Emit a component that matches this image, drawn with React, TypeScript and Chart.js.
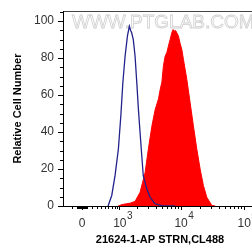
import { useEffect, useRef } from "react";
import { Chart, registerables } from "chart.js";

Chart.register(...registerables);

// ---- data (fluorescence intensity, relative cell count) ----
const isotypeIntensity = [590, 703, 815, 942, 1042, 1131, 1237, 1359, 1465, 1540, 1602, 1705, 1824, 1948, 2069, 2203, 2349, 2484, 2835, 3208, 3850, 4936, 5990, 8040];
const isotypeCount = [0, 5.7, 16.4, 31, 48.8, 66.7, 81, 92, 97.3, 95, 93.7, 90, 81, 66.7, 52.4, 39.8, 27.2, 16.4, 9.3, 4.7, 1.2, 0.2, 0, 0];

const antibodyIntensity = [929, 1097, 1300, 1502, 1824, 2203, 2657, 3008, 3413, 3850, 4365, 4645, 4943, 5240, 5570, 5930, 6280, 6680, 7110, 7450, 7745, 8150, 8550, 9060, 9640, 10260, 10880, 12310, 13900, 15670, 17750, 20050, 22610, 25590, 30700, 34670];
const antibodyCount = [0, 0.8, 1.2, 1.5, 2.5, 7.4, 18, 31, 43, 52, 58, 63, 67, 76, 81, 83, 86.5, 90, 93.7, 95.5, 94.6, 95, 93.7, 92, 88, 84.7, 79.4, 68.6, 56, 43.4, 30.8, 20, 11, 4.7, 0.3, 0];

// ---- axes ----
const xMin = -410;
const xMax = 160000;
const xMajorValues = [0, 1000, 10000, 100000];
const xMajorLabels = ["0", "10", "10", "10"];
const xMajorExponents = ["", "3", "4", "5"];
const xMinorValues = [
  -200, -100, -90, -80, -70, -60, -50, -40, -30, -20, -10,
  10, 20, 30, 40, 50, 60, 70, 80, 90,
  100, 200, 300, 400, 500, 600, 700, 800, 900,
  2000, 3000, 4000, 5000, 6000, 7000, 8000, 9000,
  20000, 30000, 40000, 50000, 60000, 70000, 80000, 90000,
];
const yMin = 0;
const yMax = 105.4;
const yTickValues = [0, 20, 40, 60, 80, 100];
const yMinorValues = [5, 10, 15, 25, 30, 35, 45, 50, 55, 65, 70, 75, 85, 90, 95, 105];

const xTitle = "21624-1-AP STRN,CL488";
const yTitle = "Relative Cell Number";
const watermark = "WWW.PTGLAB.COM";

// biexponential-like display transform (asinh)
const T = (v: number) => 2.431 + Math.asinh(v / 540) / Math.LN10;

const FAMILY = 'Arial, "Liberation Sans", sans-serif';

const extrasPlugin = {
  id: "extras",
  beforeDatasetsDraw(chart: any) {
    const ctx = chart.ctx;
    const { left, top } = chart.chartArea;
    ctx.save();
    ctx.font = "19px " + FAMILY;
    ctx.textBaseline = "alphabetic";
    ctx.textAlign = "left";
    ctx.strokeStyle = "#cfcfcf";
    ctx.lineWidth = 0.8;
    ctx.strokeText(watermark, left + 9, top + 17);
    ctx.restore();
  },
  afterDraw(chart: any) {
    const ctx = chart.ctx;
    const xs = chart.scales.x;
    const ys = chart.scales.y;
    const { left, bottom } = chart.chartArea;
    ctx.save();
    ctx.strokeStyle = "#000";
    ctx.lineWidth = 1;
    ctx.beginPath();
    for (const v of yMinorValues) {
      const p = Math.round(ys.getPixelForValue(v)) + 0.5;
      ctx.moveTo(left - 3, p);
      ctx.lineTo(left, p);
    }
    for (const v of xMinorValues) {
      const p = Math.round(xs.getPixelForValue(T(v))) + 0.5;
      ctx.moveTo(p, bottom);
      ctx.lineTo(p, bottom + 3);
    }
    ctx.stroke();

    ctx.font = "12px " + FAMILY;
    const w = ctx.measureText("10").width;
    const labelCenterY = xs.top + 4 + 6 + 7.2;
    ctx.font = "10px " + FAMILY;
    ctx.fillStyle = "#333";
    ctx.textAlign = "left";
    ctx.textBaseline = "middle";
    xMajorValues.forEach((v, i) => {
      const e = xMajorExponents[i];
      if (!e) return;
      const px = xs.getPixelForValue(T(v));
      ctx.fillText(e, px + w / 2 + 0.5, labelCenterY - 7);
    });
    ctx.restore();
  },
};

export default function App() {
  const ref = useRef<HTMLCanvasElement | null>(null);

  useEffect(() => {
    const canvas = ref.current;
    if (!canvas) return;
    Chart.defaults.font.family = FAMILY;

    const blueData = isotypeIntensity.map((v, i) => ({ x: T(v), y: isotypeCount[i] }));
    const redData = antibodyIntensity.map((v, i) => ({ x: T(v), y: antibodyCount[i] }));

    const chart = new Chart(canvas, {
      type: "line",
      data: {
        datasets: [
          {
            label: "Isotype control",
            data: blueData,
            borderColor: "#22228c",
            borderWidth: 1.3,
            pointRadius: 0,
            fill: false,
            tension: 0,
          },
          {
            label: "21624-1-AP",
            data: redData,
            borderColor: "#ff0000",
            backgroundColor: "#ff0000",
            borderWidth: 1,
            pointRadius: 0,
            fill: "origin",
            tension: 0,
          },
        ],
      },
      options: {
        animation: false,
        responsive: false,
        devicePixelRatio: 1,
        layout: { padding: { top: 10, left: 0, right: 0, bottom: 0 } },
        plugins: { legend: { display: false }, tooltip: { enabled: false } },
        scales: {
          x: {
            type: "linear",
            min: T(xMin),
            max: T(xMax),
            afterBuildTicks: (s: any) => {
              s.ticks = xMajorValues.map((v) => ({ value: T(v) }));
            },
            afterFit: (s: any) => {
              s.height = 44;
            },
            ticks: {
              callback: (_v: any, i: number) => xMajorLabels[i],
              font: { size: 12 },
              color: "#333",
              padding: 6,
              maxRotation: 0,
              autoSkip: false,
            },
            grid: { drawOnChartArea: false, tickLength: 4, tickColor: "#000", tickWidth: 1 },
            border: { color: "#000", width: 1 },
            title: {
              display: true,
              text: xTitle,
              font: { size: 11, weight: "bold" },
              color: "#000",
              padding: { top: 0, bottom: 3 },
            },
          },
          x2: {
            type: "linear",
            position: "top",
            display: true,
            min: 0,
            max: 1,
            ticks: { display: false },
            grid: { display: false, drawTicks: false },
            border: { display: true, color: "#444", width: 1 },
            afterFit: (s: any) => {
              s.height = 0;
            },
          },
          y: {
            type: "linear",
            min: yMin,
            max: yMax,
            afterBuildTicks: (s: any) => {
              s.ticks = yTickValues.map((v) => ({ value: v }));
            },
            afterFit: (s: any) => {
              s.width = 63;
            },
            ticks: { font: { size: 12 }, color: "#333", padding: 4 },
            grid: { drawOnChartArea: false, tickLength: 5, tickColor: "#000" },
            border: { color: "#000", width: 1 },
            title: {
              display: true,
              text: yTitle,
              font: { size: 11, weight: "bold" },
              color: "#000",
              padding: { top: 11, bottom: 0 },
            },
          },
        },
      },
      plugins: [extrasPlugin],
    } as any);

    return () => chart.destroy();
  }, []);

  return (
    <div
      style={{
        position: "fixed",
        left: 0,
        top: 0,
        width: 252,
        height: 250,
        overflow: "hidden",
        background: "#fff",
      }}
    >
      <canvas ref={ref} width={257} height={250} style={{ width: 257, height: 250, display: "block" }} />
    </div>
  );
}
